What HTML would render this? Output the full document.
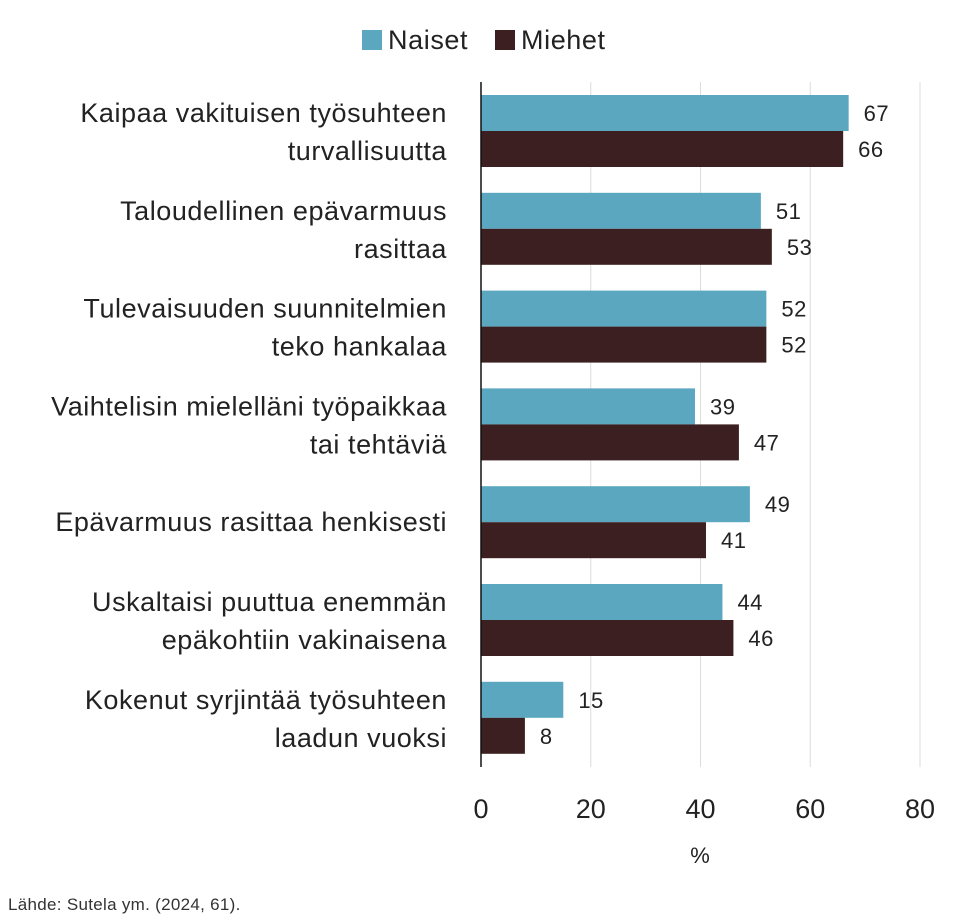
<!DOCTYPE html>
<html><head><meta charset="utf-8"><style>
html,body{margin:0;padding:0;background:#fff;}
svg{display:block;font-family:"Liberation Sans",sans-serif;}
</style></head><body>
<svg id="chart" width="960" height="918">
<g id="grid"></g><g id="bars"></g><g id="labels"></g>
<g>
 <rect x="362" y="30" width="20" height="20" fill="#5ba7c0"/>
 <text x="388" y="49" font-size="27" letter-spacing="0.6" fill="#222">Naiset</text>
 <rect x="495" y="30" width="20" height="20" fill="#3c2021"/>
 <text x="521" y="49" font-size="27" letter-spacing="0.6" fill="#222">Miehet</text>
</g>
<text x="700" y="863" font-size="22" fill="#222" text-anchor="middle">%</text>
<text x="8" y="910" font-size="17" letter-spacing="0.3" fill="#333">Lähde: Sutela ym. (2024, 61).</text>
</svg>
<script>
const categories=[["Kaipaa vakituisen työsuhteen","turvallisuutta"],["Taloudellinen epävarmuus","rasittaa"],["Tulevaisuuden suunnitelmien","teko hankalaa"],["Vaihtelisin mielelläni työpaikkaa","tai tehtäviä"],["Epävarmuus rasittaa henkisesti"],["Uskaltaisi puuttua enemmän","epäkohtiin vakinaisena"],["Kokenut syrjintää työsuhteen","laadun vuoksi"]];
const naiset=[67,51,52,39,49,44,15];
const miehet=[66,53,52,47,41,46,8];
const ticks=[0,20,40,60,80];
const NS="http://www.w3.org/2000/svg";
const x=v=>481+v*(920-481)/80;
const y0=95,pitch=97.8,bh=36;
function mk(t,a,p){const e=document.createElementNS(NS,t);for(const k in a)e.setAttribute(k,a[k]);p.appendChild(e);return e;}
const grid=document.getElementById('grid'),bars=document.getElementById('bars'),labels=document.getElementById('labels');
ticks.forEach(t=>{
 if(t>0){const l=mk('line',{x1:x(t),x2:x(t),y1:82,y2:767,stroke:'#dcdcdc','stroke-width':1},grid);
 
 }
 const tx=mk('text',{x:x(t),y:818,'font-size':27,fill:'#222','text-anchor':'middle'},grid);tx.textContent=t;
 
 
});
categories.forEach((c,i)=>{
 const gy=y0+i*pitch;
 [[naiset[i],'#5ba7c0','naiset',0],[miehet[i],'#3c2021','miehet',bh]].forEach(([v,col,s,off])=>{
  const r=mk('rect',{x:x(0),y:gy+off,width:x(v)-x(0),height:bh,fill:col},bars);
  
  
  const t=mk('text',{x:x(v)+15,y:gy+off+bh/2+8,'font-size':22,'letter-spacing':0.5,fill:'#222'},labels);t.textContent=v;
  
  
 });
 const cy=gy+bh;
 const lines=c.length===1?[cy+9]:[cy-18+9,cy+20+9];
 c.forEach((ln,j)=>{
  const t=mk('text',{x:447,y:lines[j],'font-size':27,'letter-spacing':0.55,fill:'#222','text-anchor':'end'},labels);t.textContent=ln;
  
  
 });
});
const ax=mk('line',{x1:x(0),x2:x(0),y1:82,y2:767,stroke:'#111','stroke-width':1.5},labels);


</script>
</body></html>
